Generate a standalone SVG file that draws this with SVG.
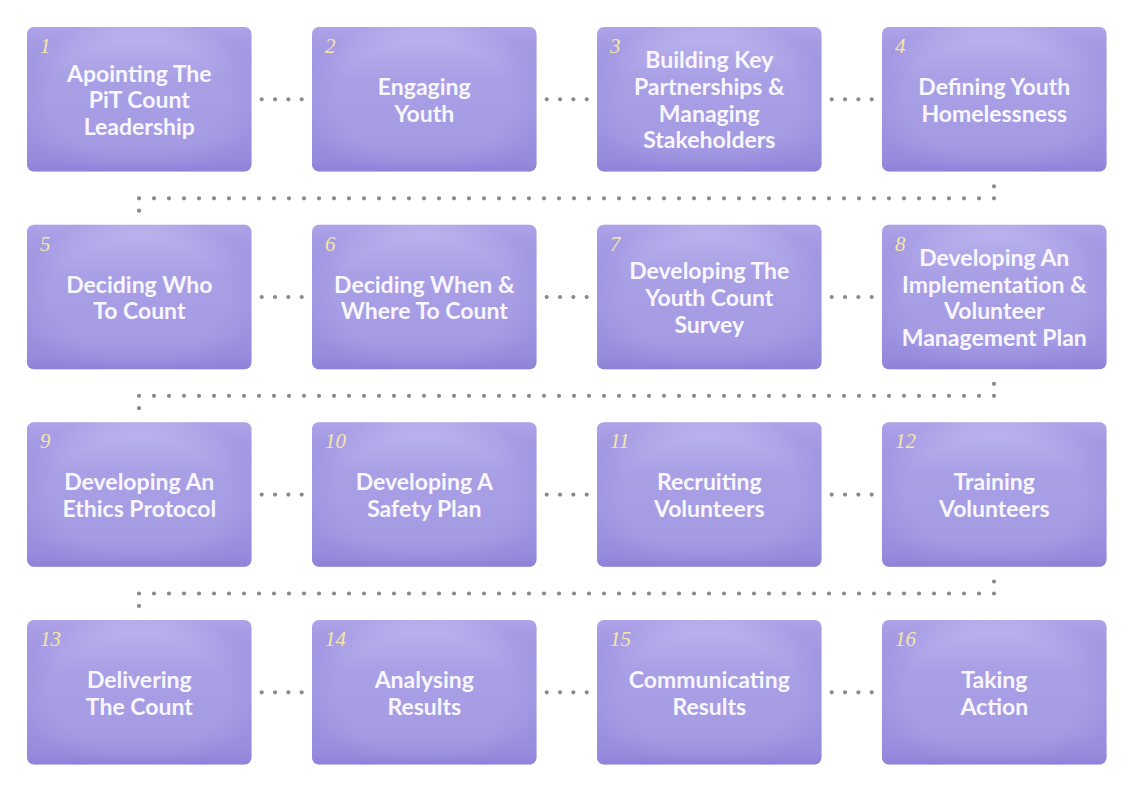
<svg xmlns="http://www.w3.org/2000/svg" width="1134" height="792" viewBox="0 0 1134 792">
<defs>
<linearGradient id="gb" x1="0" y1="0" x2="0" y2="1">
<stop offset="0" stop-color="#c4bbf0"/>
<stop offset="0.12" stop-color="#b6adeb"/>
<stop offset="0.35" stop-color="#a99fe5"/>
<stop offset="0.8" stop-color="#a59be3"/>
<stop offset="0.93" stop-color="#9c91df"/>
<stop offset="1" stop-color="#8f83d9"/>
</linearGradient>
<radialGradient id="gv" cx="0.5" cy="0.5" r="0.56">
<stop offset="0.72" stop-color="#8c7fd9" stop-opacity="0"/>
<stop offset="1" stop-color="#8c7fd9" stop-opacity="0.4"/>
</radialGradient>
<style>
.box{fill:url(#gb)}
.vig{fill:url(#gv)}
.num{font-family:"Liberation Serif","DejaVu Serif",serif;font-style:italic;font-size:21px;fill:#f6e7a6}
.t{font-family:Lato,"Open Sans","Liberation Sans",sans-serif;font-weight:bold;font-size:23px;fill:#f8f6ff;text-anchor:middle}
.dots{fill:none;stroke:#8a8a8a;stroke-width:4.2;stroke-linecap:round}
</style>
</defs>
<rect width="1134" height="792" fill="#ffffff"/>

<g id="connectors" class="dots">
<line x1="261.7" y1="99.3" x2="301.8" y2="99.3" stroke-dasharray="0 13.333"/>
<line x1="546.7" y1="99.3" x2="586.8" y2="99.3" stroke-dasharray="0 13.333"/>
<line x1="831.7" y1="99.3" x2="871.8" y2="99.3" stroke-dasharray="0 13.333"/>
<path d="M994 186.3h0M139 210.7h0"/>
<line x1="994" y1="198.3" x2="138.9" y2="198.3" stroke-dasharray="0 15"/>

<line x1="261.7" y1="297" x2="301.8" y2="297" stroke-dasharray="0 13.333"/>
<line x1="546.7" y1="297" x2="586.8" y2="297" stroke-dasharray="0 13.333"/>
<line x1="831.7" y1="297" x2="871.8" y2="297" stroke-dasharray="0 13.333"/>
<path d="M994 383.8h0M139 408.2h0"/>
<line x1="994" y1="395.8" x2="138.9" y2="395.8" stroke-dasharray="0 15"/>

<line x1="261.7" y1="494.6" x2="301.8" y2="494.6" stroke-dasharray="0 13.333"/>
<line x1="546.7" y1="494.6" x2="586.8" y2="494.6" stroke-dasharray="0 13.333"/>
<line x1="831.7" y1="494.6" x2="871.8" y2="494.6" stroke-dasharray="0 13.333"/>
<path d="M994 581.5h0M139 605.9h0"/>
<line x1="994" y1="593.5" x2="138.9" y2="593.5" stroke-dasharray="0 15"/>

<line x1="261.7" y1="692.3" x2="301.8" y2="692.3" stroke-dasharray="0 13.333"/>
<line x1="546.7" y1="692.3" x2="586.8" y2="692.3" stroke-dasharray="0 13.333"/>
<line x1="831.7" y1="692.3" x2="871.8" y2="692.3" stroke-dasharray="0 13.333"/>
</g>

<g id="n1" transform="translate(27,27)">
<rect class="box" width="224.5" height="144.5" rx="7"/><rect class="vig" width="224.5" height="144.5" rx="7"/>
<text class="num" x="13" y="26">1</text>
<text class="t" x="112.3" y="54.6">Apointing The</text><text class="t" x="112.3" y="81.3">PiT Count</text><text class="t" x="112.3" y="108">Leadership</text>
</g>
<g id="n2" transform="translate(312,27)">
<rect class="box" width="224.5" height="144.5" rx="7"/><rect class="vig" width="224.5" height="144.5" rx="7"/>
<text class="num" x="13" y="26">2</text>
<text class="t" x="112.3" y="68">Engaging</text><text class="t" x="112.3" y="94.7">Youth</text>
</g>
<g id="n3" transform="translate(597,27)">
<rect class="box" width="224.5" height="144.5" rx="7"/><rect class="vig" width="224.5" height="144.5" rx="7"/>
<text class="num" x="13" y="26">3</text>
<text class="t" x="112.3" y="41.3">Building Key</text><text class="t" x="112.3" y="68">Partnerships &amp;</text><text class="t" x="112.3" y="94.7">Managing</text><text class="t" x="112.3" y="121.4">Stakeholders</text>
</g>
<g id="n4" transform="translate(882,27)">
<rect class="box" width="224.5" height="144.5" rx="7"/><rect class="vig" width="224.5" height="144.5" rx="7"/>
<text class="num" x="13" y="26">4</text>
<text class="t" x="112.3" y="68">Defining Youth</text><text class="t" x="112.3" y="94.7">Homelessness</text>
</g>

<g id="n5" transform="translate(27,224.7)">
<rect class="box" width="224.5" height="144.5" rx="7"/><rect class="vig" width="224.5" height="144.5" rx="7"/>
<text class="num" x="13" y="26">5</text>
<text class="t" x="112.3" y="68">Deciding Who</text><text class="t" x="112.3" y="94.7">To Count</text>
</g>
<g id="n6" transform="translate(312,224.7)">
<rect class="box" width="224.5" height="144.5" rx="7"/><rect class="vig" width="224.5" height="144.5" rx="7"/>
<text class="num" x="13" y="26">6</text>
<text class="t" x="112.3" y="68">Deciding When &amp;</text><text class="t" x="112.3" y="94.7">Where To Count</text>
</g>
<g id="n7" transform="translate(597,224.7)">
<rect class="box" width="224.5" height="144.5" rx="7"/><rect class="vig" width="224.5" height="144.5" rx="7"/>
<text class="num" x="13" y="26">7</text>
<text class="t" x="112.3" y="54.6">Developing The</text><text class="t" x="112.3" y="81.3">Youth Count</text><text class="t" x="112.3" y="108">Survey</text>
</g>
<g id="n8" transform="translate(882,224.7)">
<rect class="box" width="224.5" height="144.5" rx="7"/><rect class="vig" width="224.5" height="144.5" rx="7"/>
<text class="num" x="13" y="26">8</text>
<text class="t" x="112.3" y="41.3">Developing An</text><text class="t" x="112.3" y="68">Implementation &amp;</text><text class="t" x="112.3" y="94.7">Volunteer</text><text class="t" x="112.3" y="121.4">Management Plan</text>
</g>

<g id="n9" transform="translate(27,422.3)">
<rect class="box" width="224.5" height="144.5" rx="7"/><rect class="vig" width="224.5" height="144.5" rx="7"/>
<text class="num" x="13" y="26">9</text>
<text class="t" x="112.3" y="68">Developing An</text><text class="t" x="112.3" y="94.7">Ethics Protocol</text>
</g>
<g id="n10" transform="translate(312,422.3)">
<rect class="box" width="224.5" height="144.5" rx="7"/><rect class="vig" width="224.5" height="144.5" rx="7"/>
<text class="num" x="13" y="26">10</text>
<text class="t" x="112.3" y="68">Developing A</text><text class="t" x="112.3" y="94.7">Safety Plan</text>
</g>
<g id="n11" transform="translate(597,422.3)">
<rect class="box" width="224.5" height="144.5" rx="7"/><rect class="vig" width="224.5" height="144.5" rx="7"/>
<text class="num" x="13" y="26">11</text>
<text class="t" x="112.3" y="68">Recruiting</text><text class="t" x="112.3" y="94.7">Volunteers</text>
</g>
<g id="n12" transform="translate(882,422.3)">
<rect class="box" width="224.5" height="144.5" rx="7"/><rect class="vig" width="224.5" height="144.5" rx="7"/>
<text class="num" x="13" y="26">12</text>
<text class="t" x="112.3" y="68">Training</text><text class="t" x="112.3" y="94.7">Volunteers</text>
</g>

<g id="n13" transform="translate(27,620)">
<rect class="box" width="224.5" height="144.5" rx="7"/><rect class="vig" width="224.5" height="144.5" rx="7"/>
<text class="num" x="13" y="26">13</text>
<text class="t" x="112.3" y="68">Delivering</text><text class="t" x="112.3" y="94.7">The Count</text>
</g>
<g id="n14" transform="translate(312,620)">
<rect class="box" width="224.5" height="144.5" rx="7"/><rect class="vig" width="224.5" height="144.5" rx="7"/>
<text class="num" x="13" y="26">14</text>
<text class="t" x="112.3" y="68">Analysing</text><text class="t" x="112.3" y="94.7">Results</text>
</g>
<g id="n15" transform="translate(597,620)">
<rect class="box" width="224.5" height="144.5" rx="7"/><rect class="vig" width="224.5" height="144.5" rx="7"/>
<text class="num" x="13" y="26">15</text>
<text class="t" x="112.3" y="68">Communicating</text><text class="t" x="112.3" y="94.7">Results</text>
</g>
<g id="n16" transform="translate(882,620)">
<rect class="box" width="224.5" height="144.5" rx="7"/><rect class="vig" width="224.5" height="144.5" rx="7"/>
<text class="num" x="13" y="26">16</text>
<text class="t" x="112.3" y="68">Taking</text><text class="t" x="112.3" y="94.7">Action</text>
</g>
</svg>
